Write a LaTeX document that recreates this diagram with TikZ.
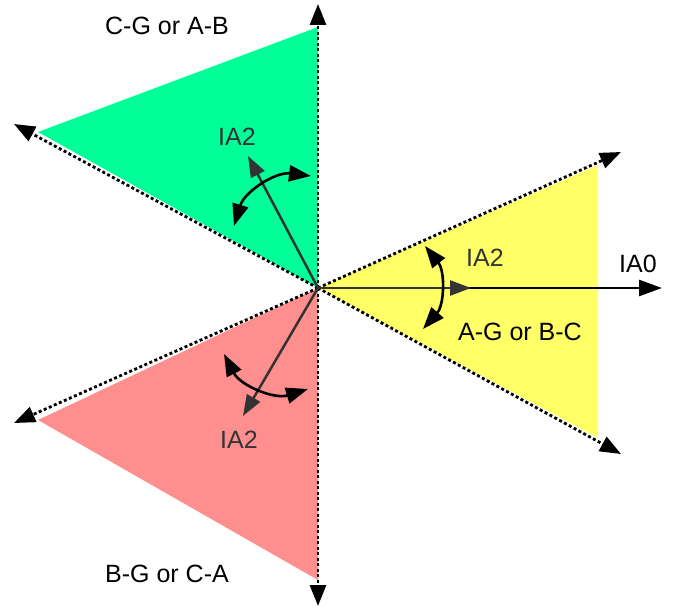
\documentclass[tikz,border=0pt]{standalone}
\usepackage{fontspec}
\setmainfont{Liberation Sans}
\usetikzlibrary{arrows.meta, calc}

\definecolor{zonegreen}{RGB}{0,255,153}
\definecolor{zoneyellow}{RGB}{255,255,102}
\definecolor{zonered}{RGB}{255,143,143}
\definecolor{vecgray}{RGB}{51,51,51}

\begin{document}
\begin{tikzpicture}[
    x=1pt, y=-1pt,
    font=\fontsize{25}{30}\selectfont,
    ray/.style={
        line width=2.8pt, dash pattern=on 3pt off 2.5pt,
        -{Triangle[length=21pt, width=16pt]}
    },
    phasor/.style={
        line width=2.5pt, -{Triangle[length=23pt, width=16pt]}
    },
    seqvec/.style={
        line width=2.5pt, draw=vecgray,
        -{Triangle[length=21pt, width=15pt, fill=vecgray]}
    },
    swing/.style={
        line width=2.6pt,
        {Triangle[length=22pt, width=16pt]}-{Triangle[length=22pt, width=16pt]}
    },
    lbl/.style={anchor=base, inner sep=0pt, text=black},
    vlbl/.style={anchor=base, inner sep=0pt, text=vecgray}
]
\useasboundingbox (0,0) rectangle (678,610);

% ---------------- Origin and ray tips ----------------
\coordinate (O) at (318,288);
\coordinate (tipN) at (318,4);
\coordinate (tipS) at (318,606);
\coordinate (tipNW) at (14,124);
\coordinate (tipSW) at (14,423);
\coordinate (tipNE) at (621,152);
\coordinate (tipSE) at (621,454);

% ---------------- Fault zones ----------------
\fill[zonegreen] (O) -- (318,27) -- (38,132) -- cycle;
\fill[zoneyellow] (O) -- (598,165) -- (598,438) -- cycle;
\fill[zonered] (O) -- (38,420) -- (318,580) -- cycle;

% ---------------- Dotted rays ----------------
\foreach \t in {tipN, tipS, tipNW, tipSW, tipNE, tipSE}
    \draw[ray] (O) -- (\t);

% ---------------- Phasors ----------------
\coordinate (ia0) at (662,288);
\coordinate (ia2A) at (471,288);
\coordinate (ia2B) at (248,156);
\coordinate (ia2C) at (243,416);
\draw[phasor] (O) -- (ia0);
\draw[seqvec] (O) -- (ia2A);
\draw[seqvec] (O) -- (ia2B);
\draw[seqvec] (O) -- (ia2C);

% ---------------- Swing arrows ----------------
\coordinate (swA1) at (425,246);
\coordinate (swA2) at (423,329);
\coordinate (swB1) at (234,226);
\coordinate (swB2) at (311,176);
\coordinate (swC1) at (224,354);
\coordinate (swC2) at (308,389);
\draw[swing] (swA1) to[bend left=40] (swA2);
\draw[swing] (swB1) to[bend left=40] (swB2);
\draw[swing] (swC1) to[bend right=40] (swC2);

% ---------------- Labels ----------------
\node[lbl] (zoneB) at (167,35) {C-G or A-B};
\node[lbl] (zoneA) at (520,340) {A-G or B-C};
\node[lbl] (zoneC) at (167,582) {B-G or C-A};
\node[lbl] (lblIA0) at (638,272) {IA0};
\node[vlbl] (lblA) at (485,266) {IA2};
\node[vlbl] (lblB) at (237,145) {IA2};
\node[vlbl] (lblC) at (239,448) {IA2};

\end{tikzpicture}
\end{document}
